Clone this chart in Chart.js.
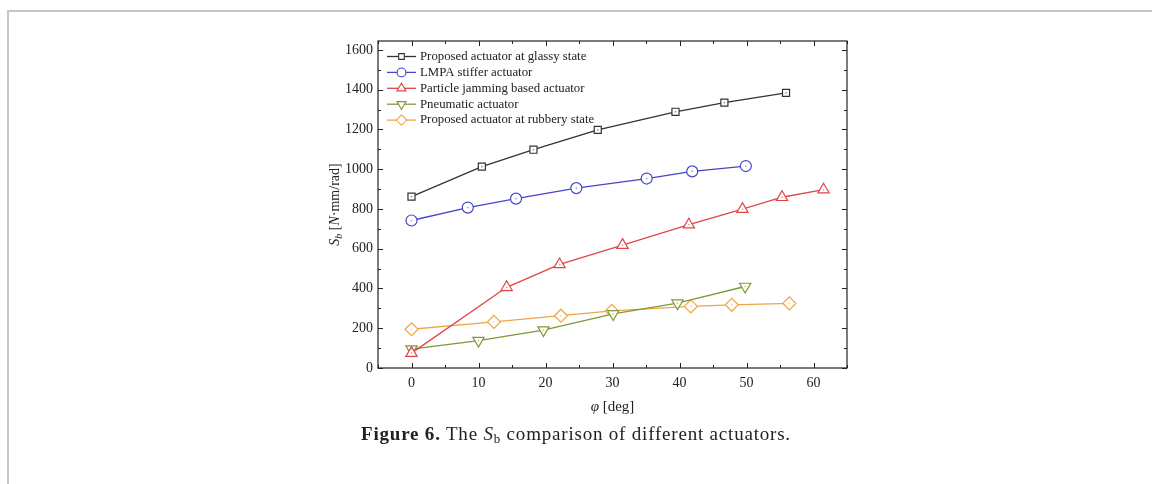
<!DOCTYPE html>
<html>
<head>
<meta charset="utf-8">
<script src="https://cdn.jsdelivr.net/npm/chart.js@4.4.1/dist/chart.umd.min.js"></script>
<style>
  html, body { margin: 0; padding: 0; background: #fff; }
  body { width: 1152px; height: 484px; position: relative; overflow: hidden; }
  #frame { position: absolute; left: 7px; top: 10px; right: -10px; bottom: -10px;
           border-left: 2px solid #c6c6c6; border-top: 2px solid #c6c6c6; }
  #wrap { position: absolute; left: 0; top: 0; width: 1152px; height: 484px; }
  #caption { position: absolute; left: 0; width: 1152px; top: 423px; text-align: center;
             font-family: "Liberation Serif", serif; font-size: 19px; letter-spacing: 0.8px; color: #222; }
  #caption sub { font-size: 13px; vertical-align: -3px; line-height: 0; }
</style>
</head>
<body>
<div id="frame"></div>
<div id="wrap"><canvas id="chart" width="1152" height="484"></canvas></div>
<div id="caption"><b>Figure 6.</b> The <i>S</i><sub>b</sub> comparison of different actuators.</div>
<script>
// tick values
var xTicks = [0, 10, 20, 30, 40, 50, 60];
var xMinor = [-5, 5, 15, 25, 35, 45, 55, 65];
var yTicks = [0, 200, 400, 600, 800, 1000, 1200, 1400, 1600];
var yMinor = [100, 300, 500, 700, 900, 1100, 1300, 1500];

// series (angle in deg, stiffness in N·mm/rad)
var glassyX = [0, 10.5, 18.2, 27.8, 39.4, 46.7, 55.9];
var glassyY = [862, 1013, 1098, 1198, 1289, 1335, 1384];
var lmpaX = [0, 8.4, 15.6, 24.6, 35.1, 41.9, 49.9];
var lmpaY = [742, 807, 852, 905, 953, 989, 1016];
var jammingX = [0, 14.2, 22.1, 31.5, 41.4, 49.4, 55.3, 61.5];
var jammingY = [75, 406, 521, 618, 721, 799, 859, 897];
var pneumaticX = [0, 10.0, 19.7, 30.1, 39.7, 49.8];
var pneumaticY = [95, 138, 191, 272, 326, 410];
var rubberyX = [0, 12.3, 22.3, 29.9, 41.7, 47.8, 56.4];
var rubberyY = [195, 232, 263, 287, 310, 318, 325];

var labels = ["Proposed actuator at glassy state", "LMPA stiffer actuator",
  "Particle jamming based actuator", "Pneumatic actuator", "Proposed actuator at rubbery state"];
var colors = ["#333333", "#4646c8", "#e04646", "#7d9a33", "#f0a545"];
var shapes = ["rect", "circle", "triangle", "triangle", "rectRot"];
var rotations = [0, 0, 0, 180, 0];
var radii = [5, 5.5, 6.5, 6.5, 6.5];

function pts(xs, ys) {
    return xs.map(function (x, i) { return { x: x, y: ys[i] }; });
}
var seriesData = [pts(glassyX, glassyY), pts(lmpaX, lmpaY), pts(jammingX, jammingY),
  pts(pneumaticX, pneumaticY), pts(rubberyX, rubberyY)];

var datasets = seriesData.map(function (d, i) {
    return {
        label: labels[i],
        data: d,
        borderColor: colors[i],
        backgroundColor: "#ffffff",
        borderWidth: 1.3,
        pointStyle: shapes[i],
        rotation: rotations[i],
        pointRadius: radii[i],
        pointBorderWidth: 1.2,
        pointBackgroundColor: "#ffffff",
        pointBorderColor: colors[i],
        tension: 0
    };
});

// frame with inward ticks, legend, axis titles
var decorPlugin = {
    id: "decor",
    afterDatasetsDraw: function (chart) {
        var ctx = chart.ctx, a = chart.chartArea;
        var xs = chart.scales.x, ys = chart.scales.y;
        ctx.save();
        // little dots in the markers
        chart.data.datasets.forEach(function (ds, i) {
            chart.getDatasetMeta(i).data.forEach(function (p) {
                ctx.fillStyle = ds.borderColor;
                ctx.globalAlpha = 0.6;
                ctx.fillRect(p.x - 0.7, p.y - 0.7, 1.4, 1.4);
            });
        });
        ctx.globalAlpha = 1;
        ctx.strokeStyle = "#222";
        ctx.lineWidth = 1.2;
        ctx.strokeRect(a.left, a.top, a.right - a.left, a.bottom - a.top);
        ctx.lineWidth = 1;
        function xt(v, len) {
            var px = Math.round(xs.getPixelForValue(v)) + 0.5;
            ctx.beginPath();
            ctx.moveTo(px, a.bottom); ctx.lineTo(px, a.bottom - len);
            ctx.moveTo(px, a.top); ctx.lineTo(px, a.top + len);
            ctx.stroke();
        }
        function yt(v, len) {
            var py = Math.round(ys.getPixelForValue(v)) + 0.5;
            ctx.beginPath();
            ctx.moveTo(a.left, py); ctx.lineTo(a.left + len, py);
            ctx.moveTo(a.right, py); ctx.lineTo(a.right - len, py);
            ctx.stroke();
        }
        xTicks.forEach(function (v) { xt(v, 5); });
        xMinor.forEach(function (v) { xt(v, 3); });
        yTicks.forEach(function (v) { yt(v, 5); });
        yMinor.forEach(function (v) { yt(v, 3); });

        // legend
        ctx.font = "12.8px 'Liberation Serif'";
        ctx.textBaseline = "middle";
        chart.data.datasets.forEach(function (ds, i) {
            var y = a.top + 15.5 + i * 15.9;
            ctx.strokeStyle = ds.borderColor;
            ctx.lineWidth = 1.3;
            ctx.beginPath();
            ctx.moveTo(a.left + 9, y); ctx.lineTo(a.left + 38, y);
            ctx.stroke();
            ctx.fillStyle = "#fff";
            ctx.lineWidth = 1.1;
            Chart.helpers.drawPoint(ctx, {
                pointStyle: ds.pointStyle, rotation: ds.rotation,
                radius: ds.pointRadius * 0.8, borderWidth: 1.1
            }, a.left + 23.5, y);
            ctx.fillStyle = "#222";
            ctx.fillText(ds.label, a.left + 42, y);
        });

        // x title
        ctx.fillStyle = "#222";
        ctx.textBaseline = "alphabetic";
        ctx.font = "italic 15px 'Liberation Serif'";
        var t1 = "\u03c6", t2 = " [deg]";
        var w1 = ctx.measureText(t1).width;
        ctx.font = "15px 'Liberation Serif'";
        var w2 = ctx.measureText(t2).width;
        var cx = (a.left + a.right) / 2 - (w1 + w2) / 2;
        ctx.font = "italic 15px 'Liberation Serif'";
        ctx.fillText(t1, cx, 411);
        ctx.font = "15px 'Liberation Serif'";
        ctx.fillText(t2, cx + w1, 411);

        // y title, rotated
        ctx.translate(339, (a.top + a.bottom) / 2);
        ctx.rotate(-Math.PI / 2);
        var parts = [["S", "italic 14px 'Liberation Serif'", 0],
                     ["b", "italic 10px 'Liberation Serif'", 3],
                     [" [", "14px 'Liberation Serif'", 0],
                     ["N", "italic 14px 'Liberation Serif'", 0],
                     ["\u00b7mm/rad]", "14px 'Liberation Serif'", 0]];
        var total = 0;
        parts.forEach(function (p) { ctx.font = p[1]; total += ctx.measureText(p[0]).width; });
        var px = -total / 2;
        parts.forEach(function (p) {
            ctx.font = p[1];
            ctx.fillText(p[0], px, p[2]);
            px += ctx.measureText(p[0]).width;
        });
        ctx.restore();
    }
};

Chart.defaults.font.family = "'Liberation Serif', serif";
Chart.defaults.color = "#222";

var ctx = document.getElementById("chart").getContext("2d");
var sbChart = new Chart(ctx, {
    type: "line",
    data: { datasets: datasets },
    options: {
        responsive: false,
        animation: false,
        layout: { padding: { left: 330, right: 305, top: 41, bottom: 86 } },
        plugins: { legend: { display: false }, tooltip: { enabled: false } },
        scales: {
            x: {
                type: "linear",
                min: -5, max: 65,
                grid: { display: false, drawTicks: false },
                border: { display: false },
                ticks: { font: { size: 14 }, padding: 7, maxRotation: 0,
                         callback: function (v) { return String(v); } },
                afterBuildTicks: function (s) { s.ticks = xTicks.map(function (v) { return { value: v }; }); },
                afterFit: function (s) { s.height = 30; }
            },
            y: {
                type: "linear",
                min: 0, max: 1645,
                grid: { display: false, drawTicks: false },
                border: { display: false },
                ticks: { font: { size: 14 }, padding: 5,
                         callback: function (v) { return String(v); } },
                afterBuildTicks: function (s) { s.ticks = yTicks.map(function (v) { return { value: v }; }); },
                afterFit: function (s) { s.width = 48; }
            }
        }
    },
    plugins: [decorPlugin]
});
</script>
</body>
</html>
